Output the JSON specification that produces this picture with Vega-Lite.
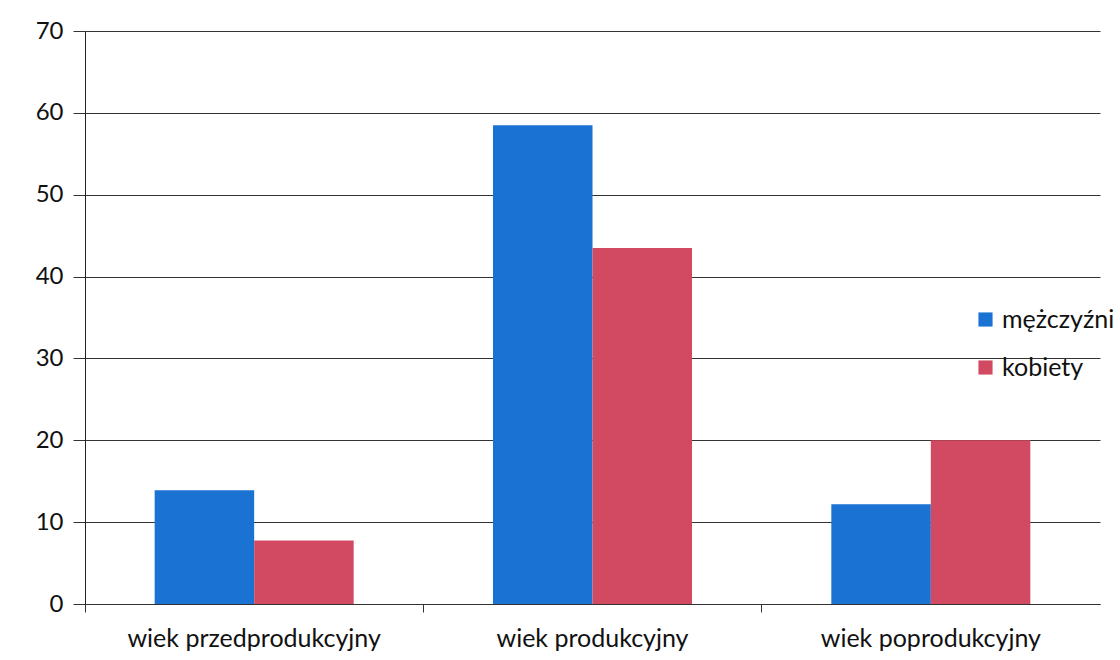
{
  "$schema": "https://vega.github.io/schema/vega-lite/v6.json",
  "autosize": "none",
  "width": 1015,
  "height": 573,
  "padding": {"left": 85, "top": 31, "right": 20, "bottom": 56},
  "background": "white",
  "data": {"values": [
    {"wiek": "wiek przedprodukcyjny", "płeć": "mężczyźni", "wartość": 13.9},
    {"wiek": "wiek przedprodukcyjny", "płeć": "kobiety", "wartość": 7.75},
    {"wiek": "wiek produkcyjny", "płeć": "mężczyźni", "wartość": 58.5},
    {"wiek": "wiek produkcyjny", "płeć": "kobiety", "wartość": 43.5},
    {"wiek": "wiek poprodukcyjny", "płeć": "mężczyźni", "wartość": 12.2},
    {"wiek": "wiek poprodukcyjny", "płeć": "kobiety", "wartość": 20.0}
  ]},
  "mark": {"type": "bar"},
  "encoding": {
    "x": {
      "field": "wiek", "type": "nominal", "sort": null, "title": null,
      "scale": {"paddingInner": 0, "paddingOuter": 0},
      "axis": {"labelAngle": 0, "labelFontSize": 25, "labelLimit": 500, "labelColor": "#111", "labelPadding": 14,
               "domainColor": "#333", "tickColor": "#333", "tickSize": 8, "bandPosition": 0, "grid": false}
    },
    "xOffset": {"field": "płeć", "type": "nominal", "sort": ["mężczyźni", "kobiety"],
                "scale": {"paddingInner": 0, "paddingOuter": 0.7}},
    "y": {
      "field": "wartość", "type": "quantitative", "title": null,
      "scale": {"domain": [0, 70]},
      "axis": {"values": [0,10,20,30,40,50,60,70], "labelFontSize": 24, "labelColor": "#111",
               "tickSize": 12, "tickColor": "#333", "domainColor": "#222", "labelPadding": 10,
               "gridColor": "#333", "gridWidth": 1}
    },
    "color": {
      "field": "płeć", "type": "nominal", "sort": ["mężczyźni", "kobiety"],
      "scale": {"domain": ["mężczyźni", "kobiety"], "range": ["#1a72d2", "#d24a62"]},
      "legend": {"title": null, "orient": "none", "legendX": 888, "legendY": 276,
                 "symbolType": "square", "symbolSize": 200, "labelFontSize": 25, "labelColor": "#111",
                 "rowPadding": 22, "labelOffset": 4, "symbolStrokeWidth": 0, "labelLimit": 300}
    }
  },
  "config": {
    "font": "Lato",
    "view": {"stroke": null}
  }
}
